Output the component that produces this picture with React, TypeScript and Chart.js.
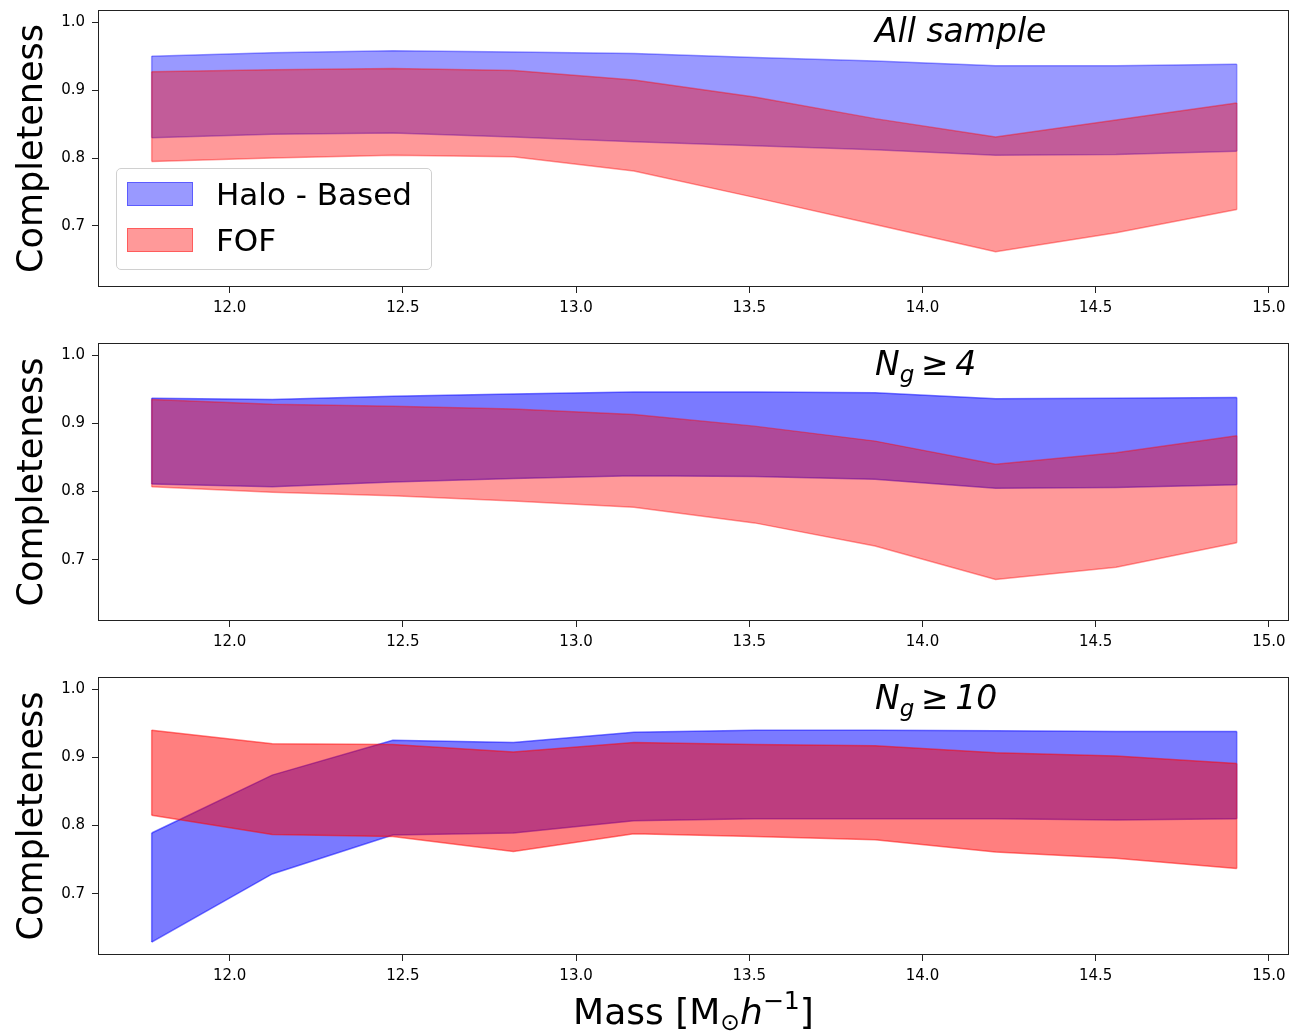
import React, { useEffect, useRef } from "react";
import { Chart, registerables } from "chart.js";

Chart.register(...registerables);

// ---------- data ----------
const mass = [11.775, 12.123, 12.471, 12.819, 13.167, 13.515, 13.863, 14.211, 14.559, 14.907];
const xTicks = [12.0, 12.5, 13.0, 13.5, 14.0, 14.5, 15.0];
const yTicks = [0.7, 0.8, 0.9, 1.0];

// All sample
const allHaloHi = [0.950, 0.955, 0.958, 0.956, 0.954, 0.948, 0.943, 0.936, 0.936, 0.938];
const allHaloLo = [0.830, 0.835, 0.837, 0.831, 0.824, 0.818, 0.812, 0.804, 0.805, 0.810];
const allFofHi = [0.927, 0.930, 0.932, 0.929, 0.915, 0.890, 0.858, 0.831, 0.856, 0.881];
const allFofLo = [0.795, 0.800, 0.804, 0.802, 0.781, 0.742, 0.702, 0.662, 0.690, 0.724];

// N_g >= 4
const ng4HaloHi = [0.937, 0.935, 0.940, 0.943, 0.946, 0.946, 0.945, 0.936, 0.937, 0.938];
const ng4HaloLo = [0.811, 0.807, 0.814, 0.819, 0.823, 0.822, 0.818, 0.805, 0.806, 0.810];
const ng4FofHi = [0.935, 0.928, 0.925, 0.921, 0.913, 0.896, 0.874, 0.840, 0.857, 0.882];
const ng4FofLo = [0.807, 0.799, 0.794, 0.786, 0.777, 0.754, 0.720, 0.671, 0.689, 0.725];

// N_g >= 10
const ng10HaloHi = [0.789, 0.874, 0.925, 0.922, 0.937, 0.940, 0.940, 0.939, 0.938, 0.938];
const ng10HaloLo = [0.629, 0.729, 0.786, 0.789, 0.807, 0.810, 0.810, 0.810, 0.808, 0.810];
const ng10FofHi = [0.940, 0.920, 0.919, 0.908, 0.922, 0.919, 0.917, 0.907, 0.902, 0.891];
const ng10FofLo = [0.815, 0.787, 0.784, 0.762, 0.788, 0.784, 0.779, 0.761, 0.752, 0.737];

const seriesLabels = ["Halo - Based", "FOF"];

type Seg = { t: string; size: number; dy: number };

const FONT = '"DejaVu Sans", "Liberation Sans", sans-serif';
const TOP_PAD = 16;

const panels = [
  {
    plotTop: 10,
    plotH: 277,
    title: [{ t: "All sample", size: 33, dy: 0 }] as Seg[],
    haloHi: allHaloHi, haloLo: allHaloLo, fofHi: allFofHi, fofLo: allFofLo,
    haloAlpha: 0.4, fofAlpha: 0.4,
  },
  {
    plotTop: 343,
    plotH: 278,
    title: [
      { t: "N", size: 33, dy: 0 },
      { t: "g", size: 23, dy: 7 },
      { t: "\u2009≥\u20094", size: 33, dy: 0 },
    ] as Seg[],
    haloHi: ng4HaloHi, haloLo: ng4HaloLo, fofHi: ng4FofHi, fofLo: ng4FofLo,
    haloAlpha: 0.52, fofAlpha: 0.4,
  },
  {
    plotTop: 677,
    plotH: 278,
    title: [
      { t: "N", size: 33, dy: 0 },
      { t: "g", size: 23, dy: 7 },
      { t: "\u2009≥\u200910", size: 33, dy: 0 },
    ] as Seg[],
    haloHi: ng10HaloHi, haloLo: ng10HaloLo, fofHi: ng10FofHi, fofLo: ng10FofLo,
    haloAlpha: 0.52, fofAlpha: 0.5,
  },
];

const pts = (arr: number[]) => mass.map((x, i) => ({ x, y: arr[i] }));

function makePlugins(title: Seg[]) {
  const frame = {
    id: "frame",
    afterDraw(chart: any) {
      const { ctx, chartArea: a } = chart;
      ctx.save();
      ctx.strokeStyle = "#222";
      ctx.lineWidth = 1;
      ctx.strokeRect(Math.round(a.left) + 0.5, Math.round(a.top) + 0.5, Math.round(a.right - a.left) - 1, Math.round(a.bottom - a.top) - 1);
      ctx.restore();
    },
  };
  const ends = {
    id: "bandEnds",
    afterDatasetDraw(chart: any, args: any) {
      const ds = chart.data.datasets[args.index];
      if (ds.fill !== "-1") return;
      const upper = chart.getDatasetMeta(args.index).data;
      const lower = chart.getDatasetMeta(args.index - 1).data;
      const { ctx } = chart;
      ctx.save();
      ctx.strokeStyle = ds.borderColor;
      ctx.lineWidth = ds.borderWidth;
      for (const k of [0, upper.length - 1]) {
        ctx.beginPath();
        ctx.moveTo(upper[k].x, upper[k].y);
        ctx.lineTo(lower[k].x, lower[k].y);
        ctx.stroke();
      }
      ctx.restore();
    },
  };
  const titlePlugin = {
    id: "panelTitle",
    afterDraw(chart: any) {
      const { ctx, chartArea: a, scales } = chart;
      let x = scales.x.getPixelForValue(mass[6]);
      const base = a.top + 32;
      ctx.save();
      ctx.fillStyle = "#000";
      ctx.textBaseline = "alphabetic";
      ctx.textAlign = "left";
      for (const s of title) {
        ctx.font = `italic ${s.size}px ${FONT}`;
        ctx.fillText(s.t, x, base + s.dy);
        x += ctx.measureText(s.t).width;
      }
      ctx.restore();
    },
  };
  return [frame, ends, titlePlugin];
}

function Panel({ p }: { p: (typeof panels)[number] }) {
  const ref = useRef<HTMLCanvasElement>(null);
  const height = TOP_PAD + p.plotH + 40;
  useEffect(() => {
    const blue = `rgba(0,0,255,${p.haloAlpha})`;
    const red = `rgba(255,0,0,${p.fofAlpha})`;
    const common = { pointRadius: 0, tension: 0, borderWidth: 1.5 };
    const chart = new Chart(ref.current!, {
      type: "line",
      data: {
        datasets: [
          { ...common, label: seriesLabels[1] + " low", data: pts(p.fofLo), borderColor: red, backgroundColor: red, fill: false },
          { ...common, label: seriesLabels[1], data: pts(p.fofHi), borderColor: red, backgroundColor: red, fill: "-1" },
          { ...common, label: seriesLabels[0] + " low", data: pts(p.haloLo), borderColor: blue, backgroundColor: blue, fill: false },
          { ...common, label: seriesLabels[0], data: pts(p.haloHi), borderColor: blue, backgroundColor: blue, fill: "-1" },
        ] as any,
      },
      options: {
        animation: false,
        responsive: false,
        devicePixelRatio: 1,
        layout: { padding: { left: 0, right: 3, top: TOP_PAD, bottom: 0 } },
        plugins: { legend: { display: false }, tooltip: { enabled: false } },
        scales: {
          x: {
            type: "linear",
            min: 11.62,
            max: 15.058,
            afterBuildTicks: (s: any) => {
              s.ticks = xTicks.map((v) => ({ value: v }));
            },
            afterFit: (s: any) => {
              s.height = 40;
            },
            ticks: {
              font: { family: FONT, size: 15 },
              color: "#000",
              padding: 6,
              maxRotation: 0,
              autoSkip: false,
              callback: (v: any) => Number(v).toFixed(1),
            },
            grid: { drawOnChartArea: false, drawTicks: true, tickLength: 6, color: "#222", lineWidth: 1 },
            border: { display: false },
          },
          y: {
            type: "linear",
            min: 0.61,
            max: 1.018,
            afterBuildTicks: (s: any) => {
              s.ticks = yTicks.map((v) => ({ value: v }));
            },
            afterFit: (s: any) => {
              s.width = 98;
            },
            ticks: {
              font: { family: FONT, size: 15 },
              color: "#000",
              padding: 7,
              autoSkip: false,
              callback: (v: any) => Number(v).toFixed(1),
            },
            grid: { drawOnChartArea: false, drawTicks: true, tickLength: 6, color: "#222", lineWidth: 1 },
            border: { display: false },
            title: {
              display: true,
              text: "Completeness",
              color: "#000",
              font: { family: FONT, size: 35, lineHeight: 1 },
              padding: { top: 15, bottom: 0 },
            },
          },
        },
      } as any,
      plugins: makePlugins(p.title) as any,
    });
    return () => chart.destroy();
  }, []);
  return (
    <canvas
      ref={ref}
      width={1292}
      height={height}
      style={{ position: "absolute", left: 0, top: p.plotTop - TOP_PAD, width: 1292, height }}
    />
  );
}

export default function App() {
  const legendText: React.CSSProperties = {
    position: "absolute",
    left: 216,
    fontFamily: FONT,
    fontSize: 31,
    lineHeight: "31px",
    color: "#000",
    whiteSpace: "nowrap",
  };
  const patch = (c: string, top: number): React.CSSProperties => ({
    position: "absolute",
    left: 127,
    top,
    width: 66,
    height: 24,
    boxSizing: "border-box",
    background: c,
    border: `1.5px solid ${c}`,
  });
  return (
    <div style={{ position: "absolute", left: 0, top: 0, width: 1292, height: 1035, background: "#fff", overflow: "hidden" }}>
      {panels.map((p, i) => (
        <Panel key={i} p={p} />
      ))}
      {/* legend */}
      <div
        style={{
          position: "absolute",
          left: 116,
          top: 168,
          width: 316,
          height: 102,
          boxSizing: "border-box",
          border: "1px solid #d0d0d0",
          borderRadius: 5,
          background: "rgba(255,255,255,0.85)",
        }}
      />
      <div style={patch("rgba(0,0,255,0.4)", 182)} />
      <div style={patch("rgba(255,0,0,0.4)", 228)} />
      <div style={{ ...legendText, top: 179 }}>{seriesLabels[0]}</div>
      <div style={{ ...legendText, top: 225 }}>{seriesLabels[1]}</div>
      {/* x axis label */}
      <div
        style={{
          position: "absolute",
          left: 98,
          width: 1191,
          top: 994,
          textAlign: "center",
          fontFamily: FONT,
          fontSize: 36,
          lineHeight: "36px",
          color: "#000",
          whiteSpace: "nowrap",
        }}
      >
        Mass [M
        <span style={{ fontSize: "0.65em", verticalAlign: "-0.25em", lineHeight: 0 }}>⊙</span>
        <i>h</i>
        <span style={{ fontSize: "0.7em", verticalAlign: "0.6em", lineHeight: 0 }}>−1</span>]
      </div>
    </div>
  );
}
